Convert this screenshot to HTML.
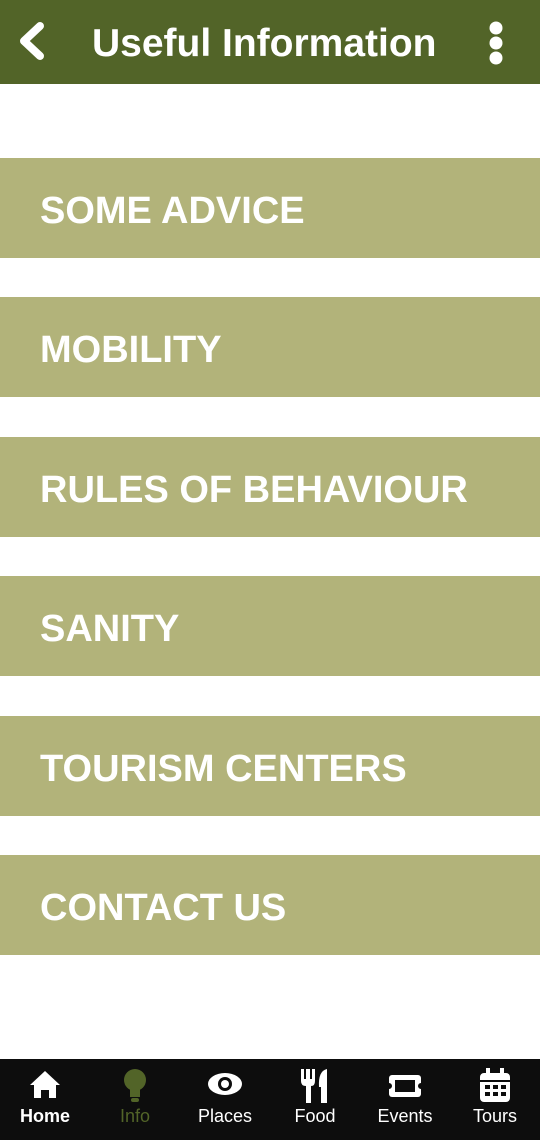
<!DOCTYPE html>
<html><head><meta charset="utf-8"><style>
*{margin:0;padding:0;box-sizing:border-box}
body{width:540px;height:1140px;background:#fff;font-family:"Liberation Sans",sans-serif;position:relative;overflow:hidden}
.hdr{position:absolute;left:0;top:0;width:540px;height:84px;background:#526428;color:#fff}
.title{position:absolute;left:92px;top:20px;font-size:39px;font-weight:bold;line-height:48px;white-space:nowrap}
.item{position:absolute;left:0;width:540px;height:100px;background:#b2b37a;color:#fff;font-size:38px;font-weight:bold;padding-left:40px;padding-top:6px;display:flex;align-items:center;white-space:nowrap}
.nav{position:absolute;left:0;top:1059px;width:540px;height:81px;background:#0d0d0d;display:flex}
.tab{width:90px;position:relative;color:#fff;text-align:center}
.tab svg{position:absolute;left:27px;top:8px}
.tab span{position:absolute;left:0;right:0;top:47px;font-size:18px}
</style></head><body>
<div class="hdr">
<svg style="position:absolute;left:14px;top:20px" width="36" height="42"><path d="M26 6 L10 21 L26 36" stroke="#fff" stroke-width="8" fill="none" stroke-linecap="round" stroke-linejoin="round"/></svg>
<div class="title">Useful Information</div>
<svg style="position:absolute;left:484px;top:20px" width="24" height="46"><circle cx="12" cy="8" r="6.5" fill="#fff"/><circle cx="12" cy="23" r="6.5" fill="#fff"/><circle cx="12" cy="38" r="6.5" fill="#fff"/></svg>
</div>
<div class="item" style="top:158px">SOME ADVICE</div>
<div class="item" style="top:297px">MOBILITY</div>
<div class="item" style="top:437px">RULES OF BEHAVIOUR</div>
<div class="item" style="top:576px">SANITY</div>
<div class="item" style="top:716px">TOURISM CENTERS</div>
<div class="item" style="top:855px">CONTACT US</div>
<div class="nav">
<div class="tab"><svg width="36" height="36"><path d="M3 18 L18 4 L33 18 L29 18 L29 31 L22 31 L22 23 L14 23 L14 31 L7 31 L7 18 Z" fill="#fff"/></svg><span style="font-weight:bold">Home</span></div>
<div class="tab"><svg width="36" height="36"><circle cx="18" cy="13" r="11" fill="#526428"/><rect x="13" y="20" width="10" height="10" fill="#526428"/><rect x="14" y="31" width="8" height="4" rx="2" fill="#526428"/></svg><span style="color:#526428">Info</span></div>
<div class="tab"><svg width="36" height="36"><ellipse cx="18" cy="17" rx="17" ry="11" fill="#fff"/><circle cx="18" cy="17" r="7" fill="#0d0d0d"/><circle cx="18" cy="17" r="4" fill="#fff"/></svg><span>Places</span></div>
<div class="tab"><svg width="36" height="36"><path d="M4 2 V14 Q4 19 9 19 V36 H14 V19 Q18 19 18 14 V2 H15 V12 H13 V2 H9 V12 H7 V2 Z" fill="#fff"/><path d="M22 20 Q21 4 30 2 V36 H24 V20 Z" fill="#fff"/></svg><span>Food</span></div>
<div class="tab"><svg width="36" height="36"><rect x="2" y="8" width="32" height="22" rx="3" fill="#fff"/><rect x="8" y="13" width="20" height="12" fill="#0d0d0d"/><circle cx="2" cy="19" r="3" fill="#0d0d0d"/><circle cx="34" cy="19" r="3" fill="#0d0d0d"/></svg><span>Events</span></div>
<div class="tab"><svg width="36" height="36"><rect x="3" y="6" width="30" height="29" rx="4" fill="#fff"/><rect x="9" y="1" width="4" height="8" fill="#fff"/><rect x="23" y="1" width="4" height="8" fill="#fff"/><rect x="3" y="13" width="30" height="2" fill="#0d0d0d"/><g fill="#0d0d0d"><rect x="8" y="18" width="5" height="4"/><rect x="16" y="18" width="5" height="4"/><rect x="24" y="18" width="5" height="4"/><rect x="8" y="25" width="5" height="4"/><rect x="16" y="25" width="5" height="4"/><rect x="24" y="25" width="5" height="4"/></g></svg><span>Tours</span></div>
</div>
</body></html>
